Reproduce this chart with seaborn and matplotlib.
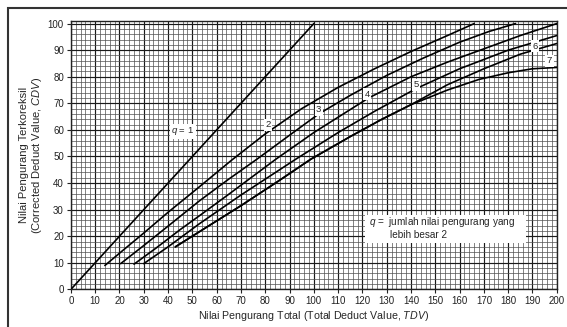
import matplotlib
matplotlib.use("Agg")
import matplotlib.pyplot as plt
from matplotlib.ticker import MultipleLocator
from matplotlib.patches import Rectangle
import seaborn as sns
import pandas as pd

# ---- data ----
q1_x = [0, 100]
q1_y = [0, 100]
q2_x = [14, 20, 30, 40, 52.9, 66, 80, 95, 110, 125, 140, 155, 166]
q2_y = [9, 13.6, 21.2, 29, 38.6, 48.5, 58.5, 68, 76, 83, 89.5, 95.5, 100]
q3_x = [20.5, 30, 40, 52.9, 65, 76.6, 90, 102, 115, 130, 145, 160, 172, 183]
q3_y = [9.7, 16.5, 23.8, 33.3, 41.5, 49, 58, 66, 73, 80.5, 87, 93, 97, 100]
q4_x = [26, 35, 45, 52.9, 65, 84.4, 100, 122.5, 140, 155, 170, 185, 200]
q4_y = [9.5, 15.5, 22.5, 27.7, 35.8, 49, 59, 72, 80, 85.5, 90.5, 95.5, 100]
q5_x = [30, 40, 52.9, 70, 92.6, 110, 125, 142, 160, 180, 200]
q5_y = [9.7, 16, 24.7, 35.5, 49, 59, 67, 75.5, 83, 90, 95.5]
q6_x = [43, 52.9, 70, 85, 98.8, 115, 128, 140, 155, 170, 185, 200]
q6_y = [16, 21.7, 31.5, 40.5, 49, 57.5, 64, 69.5, 77, 83, 88.5, 92.5]
q7_x = [43, 52.9, 70, 85, 98.8, 115, 128, 140, 155, 168, 180, 190, 200]
q7_y = [16, 21.7, 31.5, 40.5, 49, 57.5, 64, 69.5, 75, 79, 81.5, 83, 83.5]

curve_names = ["1", "2", "3", "4", "5", "6", "7"]
curves_x = [q1_x, q2_x, q3_x, q4_x, q5_x, q6_x, q7_x]
curves_y = [q1_y, q2_y, q3_y, q4_y, q5_y, q6_y, q7_y]

label_text = ["2", "3", "4", "5", "6", "7"]
label_x = [81, 102, 122, 142, 191, 197]
label_y = [62, 67.5, 73.5, 77, 91.5, 86]

x_ticks = list(range(0, 201, 10))
y_ticks = list(range(0, 101, 10))

rows = []
for name, xs, ys in zip(curve_names, curves_x, curves_y):
    for i, (a, b) in enumerate(zip(xs, ys)):
        rows.append({"q": name, "TDV": a, "CDV": b, "i": i})
df = pd.DataFrame(rows)

sns.set_theme(style="white")
plt.rcParams["font.family"] = ["Liberation Sans", "DejaVu Sans"]
plt.rcParams["mathtext.fontset"] = "custom"
plt.rcParams["mathtext.it"] = "Liberation Sans:italic"
plt.rcParams["mathtext.rm"] = "Liberation Sans"

fig = plt.figure(figsize=(5.67, 3.27), dpi=100)
ax = fig.add_axes([0.125, 0.115, 0.857, 0.821])

sns.lineplot(data=df, x="TDV", y="CDV", hue="q", palette=["black"] * 7,
             estimator=None, sort=False, legend=False, lw=1.2, ax=ax, zorder=4)

ax.set_xlim(0, 200)
ax.set_ylim(0, 101)
ax.set_xticks(x_ticks)
ax.set_yticks(y_ticks)
ax.xaxis.set_minor_locator(MultipleLocator(2))
ax.yaxis.set_minor_locator(MultipleLocator(2))
ax.grid(which="minor", color="#505050", lw=0.5, zorder=0)
ax.grid(which="major", color="#1a1a1a", lw=0.85, zorder=0)
ax.set_axisbelow(True)
ax.tick_params(which="major", direction="out", length=3, width=0.8,
               labelsize=7, pad=2, colors="#222", bottom=True, left=True)
ax.tick_params(which="minor", length=0)
for s in ax.spines.values():
    s.set_color("#222")
    s.set_linewidth(1.0)

ax.set_xlabel("Nilai Pengurang Total (Total Deduct Value, $TDV$)", fontsize=7.7, labelpad=2)
ax.set_ylabel("Nilai Pengurang Terkoreksil\n(Corrected Deduct Value, $CDV$)",
              fontsize=8, labelpad=3, linespacing=1.05)

box = dict(facecolor="white", edgecolor="none", pad=1.0)
for t, xx, yy in zip(label_text, label_x, label_y):
    ax.text(xx, yy, t, fontsize=6.8, ha="center", va="center", bbox=box, zorder=5)
ax.text(46, 59.5, "$q$ = 1", fontsize=6.8, ha="center", va="center", bbox=box, zorder=5)

ax.add_patch(Rectangle((121, 17.5), 66.5, 10.5, facecolor="white", edgecolor="none", zorder=5))
ax.text(122.5, 25.3, "$q$ =  jumlah nilai pengurang yang", fontsize=7.2, ha="left",
        va="center", zorder=6)
ax.text(131.5, 20.6, "lebih besar 2", fontsize=7.2, ha="left", va="center", zorder=6)

fig.patches.append(Rectangle((8 / 567, -0.05), 1.1, 1 - 8 / 327 + 0.05,
                             transform=fig.transFigure, fill=False,
                             edgecolor="#333", lw=1.5))

fig.savefig("out.png", dpi=100)
